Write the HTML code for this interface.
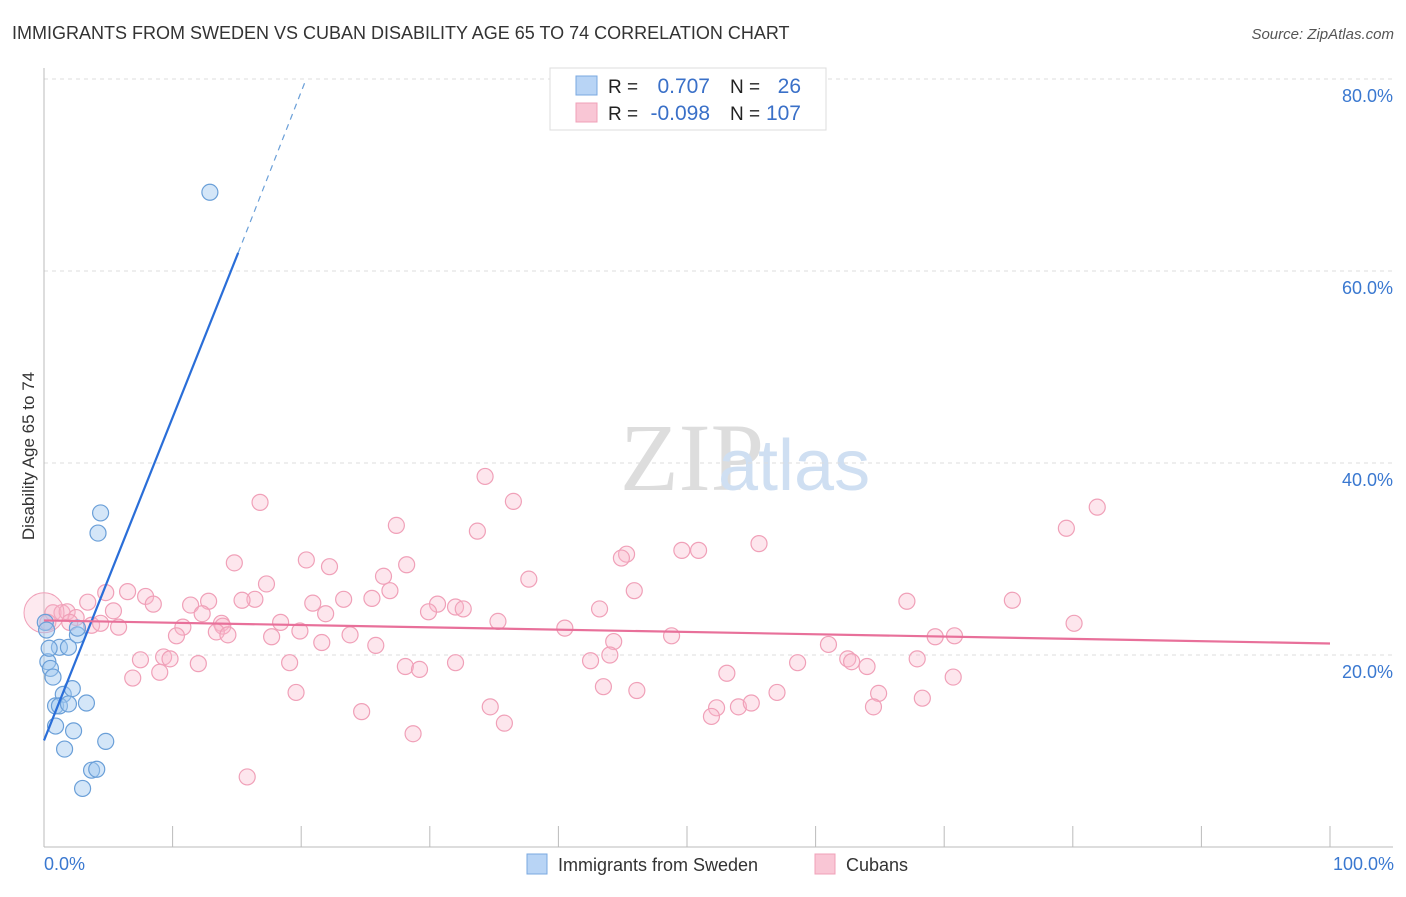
<!DOCTYPE html>
<html><head><meta charset="utf-8"><style>
body{margin:0;background:#fff;font-family:"Liberation Sans",sans-serif}
</style></head><body>
<svg id="chart" width="1406" height="892" viewBox="0 0 1406 892" xmlns="http://www.w3.org/2000/svg">
<text x="12" y="39" font-size="18" fill="#333">IMMIGRANTS FROM SWEDEN VS CUBAN DISABILITY AGE 65 TO 74 CORRELATION CHART</text>
<text x="1394" y="39" font-size="15" fill="#555" font-style="italic" text-anchor="end">Source: ZipAtlas.com</text>
<text x="620" y="490" font-size="96" fill="#ddd" font-family="Liberation Serif,serif">ZIP</text>
<text x="718" y="490" font-size="72" fill="#cfdff2">atlas</text>
<g id="grid"></g>
<g id="axes"></g>
<g id="marks"></g>
<text transform="translate(34,456) rotate(-90)" font-size="17" fill="#333" text-anchor="middle">Disability Age 65 to 74</text>
<text x="44" y="870" font-size="18" fill="#3a78d0">0.0%</text>
<text x="1394" y="870" font-size="18" fill="#3a78d0" text-anchor="end">100.0%</text>
<g>
<rect x="550" y="68" width="276" height="62" fill="#fff" stroke="#ddd"/>
<rect x="576" y="76" width="21" height="19" fill="#b8d4f5" stroke="#7aa8e0"/>
<rect x="576" y="103" width="21" height="19" fill="#f9c6d5" stroke="#f0a0b8"/>
<text x="608" y="93" font-size="19" fill="#222">R =</text>
<text x="710" y="93" font-size="21" fill="#3a70c8" text-anchor="end">0.707</text>
<text x="730" y="93" font-size="19" fill="#222">N =</text>
<text x="801" y="93" font-size="21" fill="#3a70c8" text-anchor="end">26</text>
<text x="608" y="120" font-size="19" fill="#222">R =</text>
<text x="710" y="120" font-size="21" fill="#3a70c8" text-anchor="end">-0.098</text>
<text x="730" y="120" font-size="19" fill="#222">N =</text>
<text x="801" y="120" font-size="21" fill="#3a70c8" text-anchor="end">107</text>
</g>
<g>
<rect x="527" y="854" width="20" height="20" fill="#b8d4f5" stroke="#7aa8e0"/>
<text x="558" y="871" font-size="18" fill="#333">Immigrants from Sweden</text>
<rect x="815" y="854" width="20" height="20" fill="#f9c6d5" stroke="#f0a0b8"/>
<text x="846" y="871" font-size="18" fill="#333">Cubans</text>
</g>
</svg>
<script>
const yTicks=[20,40,60,80];
const yTickLabels=["20.0%","40.0%","60.0%","80.0%"];
const xTicks=[0,10,20,30,40,50,60,70,80,90,100];
const swedenX=[12.9,4.4,4.2,1.2,1.9,2.6,2.6,0.3,0.5,0.7,1.5,2.2,0.9,1.2,1.9,3.3,0.9,2.3,1.6,4.8,3.7,4.1,3.0,0.1,0.4,0.2];
const swedenY=[68.2,34.8,32.7,20.8,20.8,22.1,22.8,19.3,18.6,17.7,15.9,16.5,14.7,14.7,14.9,15.0,12.6,12.1,10.2,11.0,8.0,8.1,6.1,23.4,20.7,22.6];
const cubanX=[16.8,34.3,36.5,27.4,33.7,81.9,79.5,55.6,49.6,50.9,45.3,44.9,20.4,14.8,28.2,22.2,37.7,26.4,17.3,45.9,26.9,6.5,7.9,4.8,16.4,15.4,25.5,23.3,12.8,8.5,11.4,3.4,20.9,30.6,32.0,32.6,29.9,43.2,67.1,75.3,0.7,1.4,1.8,2.5,0.3,2.0,3.7,4.4,5.4,5.8,12.3,21.9,18.4,35.3,13.8,13.9,10.8,19.9,40.5,80.1,13.4,14.3,17.7,10.3,23.8,21.6,25.8,44.3,48.8,61.0,69.3,70.8,44.0,7.5,9.3,9.8,12.0,19.1,28.1,29.2,32.0,42.5,58.6,62.5,62.8,64.0,67.9,9.0,6.9,53.1,70.7,19.6,43.5,46.1,57.0,64.9,68.3,34.7,24.7,35.8,52.3,51.9,54.0,55.0,64.5,28.7,15.8];
const cubanY=[35.9,38.6,36.0,33.5,32.9,35.4,33.2,31.6,30.9,30.9,30.5,30.1,29.9,29.6,29.4,29.2,27.9,28.2,27.4,26.7,26.7,26.6,26.1,26.5,25.8,25.7,25.9,25.8,25.6,25.3,25.2,25.5,25.4,25.3,25.0,24.8,24.5,24.8,25.6,25.7,24.4,24.4,24.5,23.9,23.4,23.4,23.1,23.3,24.6,22.9,24.3,24.3,23.4,23.5,23.3,23.0,22.9,22.5,22.8,23.3,22.4,22.1,21.9,22.0,22.1,21.3,21.0,21.4,22.0,21.1,21.9,22.0,20.0,19.5,19.8,19.6,19.1,19.2,18.8,18.5,19.2,19.4,19.2,19.6,19.3,18.8,19.6,18.2,17.6,18.1,17.7,16.1,16.7,16.3,16.1,16.0,15.5,14.6,14.1,12.9,14.5,13.6,14.6,15.0,14.6,11.8,7.3];
const swedenTrend=[[0,11.1],[15.1,61.9]];
const swedenTrendDash=[[15.1,61.9],[20.3,79.7]];
const cubanTrend=[[0,23.6],[100,21.2]];
const NS="http://www.w3.org/2000/svg";
const xs=v=>44+v*12.86, ys=v=>847-v*9.6;
function mk(p,t,a){const e=document.createElementNS(NS,t);for(const k in a)e.setAttribute(k,a[k]);document.getElementById(p).appendChild(e);return e;}
yTicks.forEach((t,i)=>{
 const l=mk('grid','line',{x1:44,x2:1393,y1:ys(t),y2:ys(t),stroke:'#ddd','stroke-dasharray':'4,4'});
 
 
 const tx=mk('grid','text',{x:1393,y:ys(t)+23,'font-size':18,fill:'#3a78d0','text-anchor':'end'});
 tx.textContent=yTickLabels[i];
 
 
});
const ax=mk('axes','line',{x1:44,x2:44,y1:68,y2:847,stroke:'#bbb'});


const bx=mk('axes','line',{x1:44,x2:1393,y1:847,y2:847,stroke:'#bbb'});


xTicks.forEach(t=>{const l=mk('axes','line',{x1:xs(t),x2:xs(t),y1:826,y2:847,stroke:'#bbb'});
 
 });
cubanX.forEach((x,i)=>{const c=mk('marks','circle',{cx:xs(x),cy:ys(cubanY[i]),r:8,fill:'rgba(248,182,202,0.35)',stroke:'#f0a0b8','stroke-width':1.2});
 
 });
const big=mk('marks','circle',{cx:xs(0),cy:ys(24.4),r:20,fill:'rgba(248,182,202,0.3)',stroke:'#f0a0b8'});


swedenX.forEach((x,i)=>{const c=mk('marks','circle',{cx:xs(x),cy:ys(swedenY[i]),r:8,fill:'rgba(160,200,240,0.45)',stroke:'#6a9fd8','stroke-width':1.2});
 
 });
const l1=mk('marks','line',{x1:xs(swedenTrend[0][0]),y1:ys(swedenTrend[0][1]),x2:xs(swedenTrend[1][0]),y2:ys(swedenTrend[1][1]),stroke:'#2a6ed8','stroke-width':2.2});


const l2=mk('marks','line',{x1:xs(swedenTrendDash[0][0]),y1:ys(swedenTrendDash[0][1]),x2:xs(swedenTrendDash[1][0]),y2:ys(swedenTrendDash[1][1]),stroke:'#6a9fd8','stroke-width':1.2,'stroke-dasharray':'6,5'});


const l3=mk('marks','line',{x1:xs(cubanTrend[0][0]),y1:ys(cubanTrend[0][1]),x2:xs(cubanTrend[1][0]),y2:ys(cubanTrend[1][1]),stroke:'#e8709a','stroke-width':2.2});


</script>
</body></html>
